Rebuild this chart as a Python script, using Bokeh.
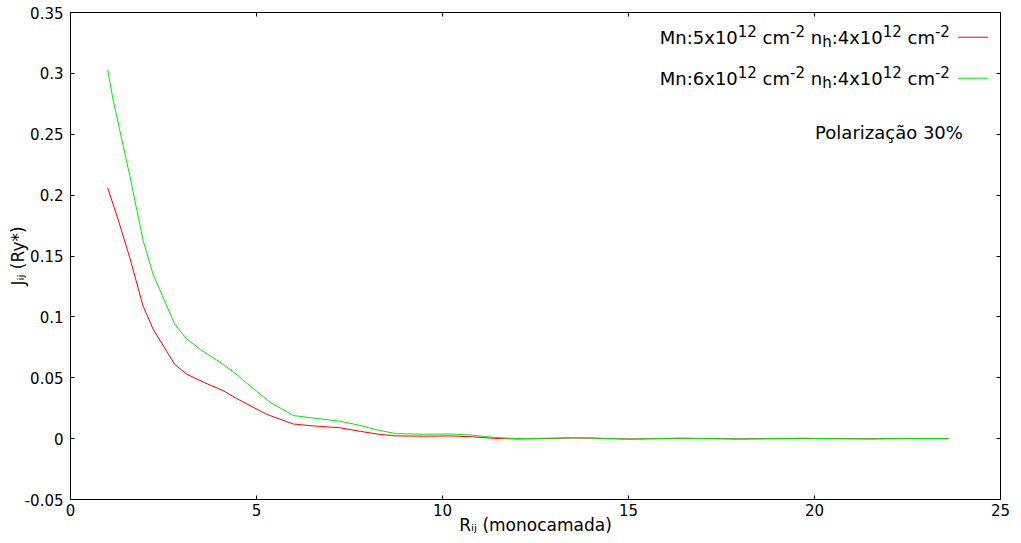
from bokeh.plotting import figure
from bokeh.models import Range1d, FixedTicker, LinearAxis, Label, CustomJSTickFormatter, ColumnDataSource
from bokeh.embed import file_html
from bokeh.resources import INLINE

# ---------------- data ----------------
x_green = [1.0, 1.14, 1.42, 1.60, 1.95, 2.22, 2.80, 3.12, 3.5, 4.01, 4.37, 4.8, 5.36, 5.99,
           6.5, 7.25, 7.79, 8.3, 8.77, 9.5, 10.2, 10.8, 11.4, 12.0, 13.0, 13.5, 14.0, 15.0,
           16.0, 16.5, 17.0, 18.0, 19.0, 19.7, 20.5, 21.5, 22.5, 23.6]
y_green = [0.303, 0.279, 0.240, 0.215, 0.163, 0.135, 0.094, 0.082, 0.073, 0.063, 0.055, 0.044,
           0.030, 0.019, 0.017, 0.0143, 0.0108, 0.0068, 0.0040, 0.0036, 0.0038, 0.0028, 0.0010,
           0.0000, 0.0004, 0.0008, 0.0005, -0.0004, 0.0002, 0.0003, 0.0001, -0.0003, 0.0,
           0.0003, 0.0, -0.0002, 0.0002, 0.0]

x_red = [1.0, 1.3, 1.59, 1.95, 2.22, 2.80, 3.12, 3.6, 4.10, 4.46, 5.27, 5.99, 6.5, 7.25, 7.79,
         8.3, 8.77, 9.5, 10.2, 10.8, 11.4, 12.0, 13.0, 13.5, 14.0, 15.0, 16.0, 16.5, 17.0,
         18.0, 19.0, 19.7, 20.5, 21.5, 22.5, 23.6]
y_red = [0.206, 0.178, 0.149, 0.109, 0.090, 0.061, 0.053, 0.046, 0.0395, 0.033, 0.020, 0.012,
         0.0105, 0.0089, 0.006, 0.0035, 0.0022, 0.0020, 0.0022, 0.0015, 0.0002, -0.0003,
         0.0002, 0.0006, 0.0004, -0.0004, 0.0001, 0.0003, 0.0001, -0.0003, 0.0, 0.0002,
         0.0, -0.0002, 0.0001, 0.0]

x_ticks = [0, 5, 10, 15, 20, 25]
y_ticks = [-0.05, 0.0, 0.05, 0.1, 0.15, 0.2, 0.25, 0.3, 0.35]
y_tick_labels = ["-0.05", "0", "0.05", "0.1", "0.15", "0.2", "0.25", "0.3", "0.35"]

series1_parts = [("Mn:5x10", "n"), ("12", "sup"), (" cm", "n"), ("-2", "sup"), (" n", "n"),
                 ("h", "sub"), (":4x10", "n"), ("12", "sup"), (" cm", "n"), ("-2", "sup")]
series2_parts = [("Mn:6x10", "n"), ("12", "sup"), (" cm", "n"), ("-2", "sup"), (" n", "n"),
                 ("h", "sub"), (":4x10", "n"), ("12", "sup"), (" cm", "n"), ("-2", "sup")]
note_text = "Polarização 30%"
x_title = "Rᵢⱼ (monocamada)"
y_title = "Jᵢⱼ (Ry*)"

RED = "#ff0000"
GREEN = "#00ee00"
FONT = "DejaVu Sans"
LIFT = 7  # baseline correction in px

# ---------------- figure ----------------
p = figure(width=1021, height=543, output_backend="svg", toolbar_location=None,
           x_range=Range1d(0, 25), y_range=Range1d(-0.05, 0.35),
           min_border_left=70, min_border_right=21, min_border_top=12, min_border_bottom=44)
p.background_fill_color = "white"
p.border_fill_color = "white"
p.outline_line_color = "black"
p.xgrid.grid_line_color = None
p.ygrid.grid_line_color = None

p.line(x_red, y_red, line_color=RED, line_width=1)
p.line(x_green, y_green, line_color=GREEN, line_width=1)

for ax, ticks in ((p.xaxis[0], x_ticks), (p.yaxis[0], y_ticks)):
    ax.ticker = FixedTicker(ticks=ticks)
    ax.major_tick_in = 4
    ax.major_tick_out = 0
    ax.minor_tick_in = 0
    ax.minor_tick_out = 0
    ax.axis_line_color = "black"
    ax.major_tick_line_color = "black"
    ax.major_label_text_font = FONT
    ax.major_label_text_font_size = "15px"
    ax.major_label_text_color = "black"
    ax.axis_label_text_font = FONT
    ax.axis_label_text_font_size = "17px"
    ax.axis_label_text_font_style = "normal"
    ax.axis_label_text_color = "black"
p.xaxis.major_label_standoff = 4
p.yaxis.major_label_standoff = 7
p.yaxis.formatter = CustomJSTickFormatter(
    args=dict(tvals=y_ticks, tlabels=y_tick_labels),
    code="const i = tvals.findIndex(t => Math.abs(t - tick) < 1e-9); return i >= 0 ? tlabels[i] : '';")
p.xaxis.axis_label = x_title
p.yaxis.axis_label = y_title
p.xaxis.axis_label_standoff = -4
p.yaxis.axis_label_standoff = -6

blank = "return '';"
top = LinearAxis(ticker=FixedTicker(ticks=x_ticks), formatter=CustomJSTickFormatter(code=blank),
                 major_label_text_font_size="1px",
                 major_label_standoff=0, major_tick_in=4, major_tick_out=0,
                 minor_tick_in=0, minor_tick_out=0, axis_line_color=None,
                 major_tick_line_color="black")
right = LinearAxis(ticker=FixedTicker(ticks=y_ticks), formatter=CustomJSTickFormatter(code=blank),
                   major_label_text_font_size="1px",
                   major_label_standoff=0, major_tick_in=4, major_tick_out=0,
                   minor_tick_in=0, minor_tick_out=0, axis_line_color=None,
                   major_tick_line_color="black")
p.add_layout(top, "above")
p.add_layout(right, "right")

# ---------------- text composition helpers ----------------
W = {' ': 0.318, '(': 0.390, ')': 0.390, '*': 0.500, '-': 0.361, '.': 0.318, ':': 0.337,
     '%': 0.950, 'J': 0.295, 'M': 0.863, 'P': 0.603, 'R': 0.695, 'a': 0.613, 'c': 0.550,
     'd': 0.635, 'h': 0.634, 'i': 0.278, 'j': 0.278, 'l': 0.278, 'm': 0.974, 'n': 0.634,
     'o': 0.612, 'r': 0.411, 'x': 0.592, 'y': 0.592, 'z': 0.525, 'ç': 0.550, 'ã': 0.613}
for d in "0123456789":
    W[d] = 0.636


def text_width(s, size):
    return sum(W.get(c, 0.6) for c in s) * size


def compose(x, y, parts, main, small, rise, drop, align="left"):
    sizes = {"n": main, "sup": small, "sub": small}
    shifts = {"n": 0, "sup": rise, "sub": -drop}
    total = sum(text_width(t, sizes[k]) for t, k in parts)
    adv = 0.0
    if align == "right":
        adv = -total
    elif align == "center":
        adv = -total / 2
    for t, k in parts:
        s = t.lstrip(" ")
        lead = text_width(t[:len(t) - len(s)], sizes[k])
        p.add_layout(Label(x=x, y=y, text=s, x_offset=adv + lead, y_offset=shifts[k] + LIFT,
                           text_font=FONT, text_font_size=f"{sizes[k]}px",
                           text_color="black", text_align="left",
                           text_baseline="alphabetic"))
        adv += text_width(t, sizes[k])


# key texts (right aligned) and key samples
compose(23.64, 0.3237, series1_parts, 18, 15, 7, 4, align="right")
compose(23.64, 0.2900, series2_parts, 18, 15, 7, 4, align="right")
key_src = ColumnDataSource(dict(x0=[23.86, 23.86], x1=[24.66, 24.66],
                                y=[0.3297, 0.2960], c=[RED, GREEN]))
p.segment(x0="x0", y0="y", x1="x1", y1="y", line_color="c", line_width=1, source=key_src)

p.add_layout(Label(x=23.99, y=0.2457, y_offset=LIFT, text=note_text, text_font=FONT,
                   text_font_size="18px", text_color="black", text_align="right",
                   text_baseline="alphabetic"))

open("out.html", "w").write(file_html(p, INLINE))
